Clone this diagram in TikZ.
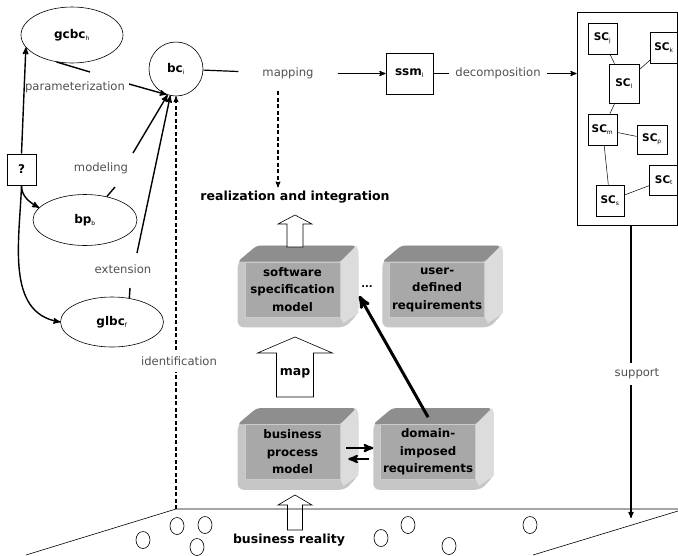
\documentclass[tikz,border=0pt]{standalone}
\usepackage{fontspec}
\setmainfont{DejaVu Sans}
\usepackage{tikz}
\usetikzlibrary{arrows}
\usetikzlibrary{shapes, positioning, calc, backgrounds}

\definecolor{facegray}{HTML}{A8A8A8}
\definecolor{topgray}{HTML}{8E8E8E}
\definecolor{sidegray}{HTML}{DCDCDC}
\definecolor{lipgray}{HTML}{C6C6C6}
\definecolor{lblgray}{HTML}{505050}

\newcommand{\sub}[1]{\textsubscript{\fontsize{6}{6}\selectfont\mdseries #1}}
% shaded cube behind a block node
\newcommand{\bevel}[1]{%
  \fill[lipgray,rounded corners=6pt] ([xshift=-7pt]#1.north west) -- ([xshift=12pt,yshift=16pt]#1.north west)
    -- ([xshift=16pt,yshift=16pt]#1.north east) -- ([xshift=18pt,yshift=10pt]#1.north east)
    -- ([xshift=18pt,yshift=4pt]#1.south east) -- ([xshift=5pt,yshift=-10pt]#1.south east)
    -- ([xshift=-7pt,yshift=-10pt]#1.south west) -- cycle;
  \fill[topgray,rounded corners=3pt] ([xshift=-7pt]#1.north west) -- ([xshift=12pt,yshift=16pt]#1.north west)
    -- ([xshift=16pt,yshift=16pt]#1.north east) -- (#1.north east) -- cycle;
  \fill[sidegray] (#1.north east) -- ([xshift=16pt,yshift=16pt]#1.north east) -- ([xshift=18pt,yshift=10pt]#1.north east)
    -- ([xshift=18pt,yshift=4pt]#1.south east) -- ([xshift=3pt,yshift=-6pt]#1.south east) -- (#1.south east) -- cycle;}
% hollow up arrow: x, bottom, top, half shaft, half head, head length
\newcommand{\blockarrow}[6]{%
  \draw[line width=0.6pt,fill=white] (#1-#4,#2) -- (#1-#4,#3-#6) -- (#1-#5,#3-#6) -- (#1,#3)
    -- (#1+#5,#3-#6) -- (#1+#4,#3-#6) -- (#1+#4,#2) -- cycle;}

\begin{document}
\begin{tikzpicture}[x=1pt,y=1pt,>=stealth',
  ell node/.style={ellipse,draw,line width=0.6pt,inner sep=0pt,font=\fontsize{12}{14}\selectfont\bfseries},
  sq node/.style={rectangle,draw,line width=0.7pt,inner sep=0pt,font=\fontsize{12}{14}\selectfont\bfseries},
  sc node/.style={sq node,minimum width=29pt,minimum height=31pt,font=\fontsize{10.5}{12}\selectfont\bfseries},
  block node/.style={rectangle,fill=facegray,draw=facegray!60!white,line width=0.6pt,minimum width=95pt,
    minimum height=55pt,inner sep=0pt,align=center,font=\fontsize{11.8}{17.5}\selectfont\bfseries},
  lbl node/.style={text=lblgray,inner sep=6pt,font=\fontsize{11.6}{13}\selectfont},
  head node/.style={font=\fontsize{12.5}{14}\selectfont\bfseries},
  conn/.style={line width=1.4pt},
  dashline/.style={line width=1.1pt,dash pattern=on 4pt off 2.5pt}]
  \useasboundingbox (0,0) rectangle (678,-555);

  % concepts on the left
  \node[ell node,minimum width=102pt,minimum height=56pt] (gcbc) at (72,-35) {gcbc\sub{h}};
  \node[ell node,circle,minimum size=54pt] (bc) at (176,-69) {bc\sub{i}};
  \node[ell node,minimum width=104pt,minimum height=51pt] (bp) at (85,-220) {bp\sub{b}};
  \node[ell node,minimum width=103pt,minimum height=50pt] (glbc) at (112,-322) {glbc\sub{f}};
  \node[sq node,minimum width=29pt,minimum height=31pt] (q) at (21.5,-169.5) {?};
  \node[lbl node] (param) at (75,-87) {parameterization};
  \node[lbl node] (modeling) at (101,-168) {modeling};
  \node[lbl node] (extension) at (123,-269) {extension};
  \node[lbl node] (ident) at (179,-361) {identification};
  \coordinate (pa) at (90,-72);
  \coordinate (pb) at (129,-84);
  \coordinate (ma) at (115,-187);
  \coordinate (mb) at (133,-153);
  \coordinate (ea) at (130,-288);
  \coordinate (eb) at (137,-253);

  % top row
  \node[lbl node,inner xsep=24pt] (mapping) at (288,-73.5) {mapping};
  \node[sq node,minimum width=47pt,minimum height=41pt] (ssm) at (409.5,-73.5) {ssm\sub{l}};
  \node[lbl node] (decomp) at (498,-73.5) {decomposition};
  \node[draw,line width=0.7pt,minimum width=100pt,minimum height=213pt] (comp) at (627,-118.5) {};
  \node[sc node] (scj) at (602.5,-38.5) {SC\sub{j}};
  \node[sc node,minimum width=27pt] (sck) at (664,-47.5) {SC\sub{k}};
  \node[sc node,minimum width=30pt,minimum height=39pt] (scl) at (624,-83.5) {SC\sub{l}};
  \node[sc node] (scm) at (602.5,-129.5) {SC\sub{m}};
  \node[sc node,minimum width=30pt,minimum height=29pt] (scp) at (652,-139.5) {SC\sub{p}};
  \node[sc node,minimum width=28pt] (scs) at (610,-200.5) {SC\sub{s}};
  \node[sc node,minimum height=30pt] (sct) at (664,-180) {SC\sub{t}};
  \node[lbl node] (support) at (637,-374) {support};
  \coordinate (sx) at (631,0);
  \coordinate (supend) at (631,-518);

  % models
  \node[head node] (realize) at (295,-197) {realization and integration};
  \node[block node] (spec) at (292.5,-289.5) {software\\specification\\model};
  \node[block node,right=49pt of spec] (user) {user-\\defined\\requirements};
  \node[block node] (bpm) at (292.5,-452) {business\\process\\model};
  \node[block node,right=40pt of bpm] (dom) {domain-\\imposed\\requirements};
  \node[font=\bfseries] (dots) at (367,-287) {...};
  \begin{scope}[on background layer]
    \bevel{spec} \bevel{user} \bevel{bpm} \bevel{dom}
  \end{scope}
  \blockarrow{295}{-247}{-215}{8}{17}{9}
  \blockarrow{295}{-397}{-337}{18.5}{37.5}{16}
  \node[head node] (map) at (295,-373) {map};
  \blockarrow{295}{-530}{-495}{7.5}{17}{10}

  % business reality
  \coordinate (pl) at (176,-509);
  \draw[line width=0.6pt] (26,-555) -- (pl) -- (678,-509);
  \draw[line width=0.6pt] (533,-555) -- (678,-511);
  \foreach \x/\y in {143/540, 177/526, 205/525, 197/547, 381/538, 408/525, 449/546, 530/525}
    \draw[line width=0.6pt] (\x,-\y) ellipse (7pt and 8.5pt);
  \node[head node] (reality) at (289,-540) {business reality};

  % connectors
  \draw[conn,->] (q.north) -- (gcbc.195);
  \draw[conn,->] (q.south) to[out=-90,in=150] (bp.165);
  \draw[conn,->] (q.south) to[out=-92,in=170] (glbc.west);
  \draw[conn] (gcbc.-120) -- (pa);
  \draw[conn,->] (pb) -- (bc.250);
  \draw[conn] (bp.47) -- (ma);
  \draw[conn,->] (mb) -- (bc.252);
  \draw[conn] (glbc.54) -- (ea);
  \draw[conn,->] (eb) -- (bc.258);
  \draw[dashline] (pl) -- (pl |- ident.south);
  \draw[dashline,->] (pl |- ident.north) -- (bc.south);
  \draw[line width=1.2pt] (bc) -- (mapping);
  \draw[line width=1.2pt,->] (mapping) -- (ssm);
  \draw[dashline,->] ([xshift=-10pt,yshift=-6pt]mapping.south) -- ([xshift=-17pt]realize.north);
  \draw[line width=1.2pt] (ssm) -- (decomp);
  \draw[line width=1.2pt,->] (decomp) -- (decomp -| comp.west);
  \draw[line width=0.5pt] (scj) -- (scl) (scl) -- (sck) (scl) -- (scm)
    (scm) -- (scp) (scm) -- (scs) (scs) -- (sct);
  \draw[line width=1.2pt] (comp.south -| sx) -- (support.north -| sx);
  \draw[line width=1.2pt,->] (support.south -| sx) -- (supend);
  \draw[line width=2.2pt,->] ([xshift=6pt,yshift=4pt]bpm.east) -- ([xshift=-7pt,yshift=4pt]dom.west);
  \draw[line width=2.2pt,->] ([xshift=-11pt,yshift=-7pt]dom.west) -- ([xshift=8pt,yshift=-7pt]bpm.east);
  \draw[line width=3pt,->] ([yshift=7pt]dom.north) -- ([xshift=19pt,yshift=-6.5pt]spec.east);
\end{tikzpicture}
\end{document}
